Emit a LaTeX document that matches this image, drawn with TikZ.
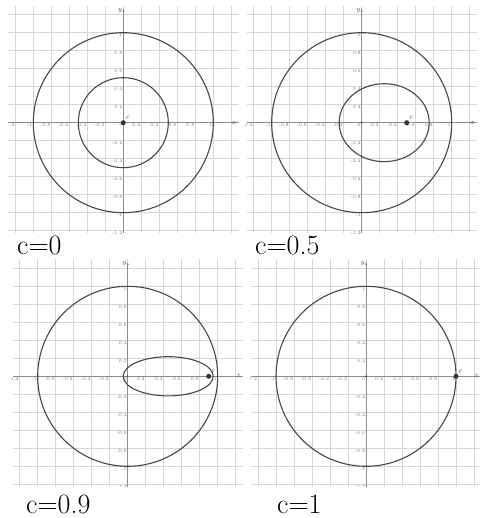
\documentclass[tikz,border=0pt]{standalone}
\usetikzlibrary{arrows.meta}
\tikzset{
  gridline/.style={draw=black!16, line width=0.9pt},
  axisline/.style={draw=black!45, line width=0.8pt},
  curve/.style={draw=black!72, line width=1.1pt},
  ticklab/.style={font=\fontsize{4.5}{5}\selectfont, text=black!55, inner sep=0.7pt},
  axlab/.style={font=\fontsize{7}{8}\selectfont\itshape, text=black!70, inner sep=0.5pt},
  caption/.style={font=\fontsize{28}{30}\selectfont, inner sep=0pt, anchor=base west},
  ptdot/.style={circle, fill=black!80, inner sep=0pt, minimum size=5pt},
  odot/.style={circle, fill=black!75, inner sep=0pt, minimum size=2pt},
}
\newcommand\mypanel[4]{% #1,#2 origin (pt), #3 = c, #4 = name
  \begin{scope}[shift={(#1pt,#2pt)}, x=90pt, y=90pt]
    \begin{scope}
      \clip (-1.28,-1.23) rectangle (1.28,1.3);
      \foreach \i in {-6,...,6} {
        \pgfmathsetmacro\g{\i/5}
        \draw[gridline] (\g,-1.23) -- (\g,1.3);
        \draw[gridline] (-1.28,\g) -- (1.28,\g);
      }
      \draw[axisline] (-1.28,0) -- (1.28,0);
      \draw[axisline, -{Latex[length=3pt,width=2.6pt]}] (0,-1.23) -- (0,1.27);
      \foreach \v/\t in {-1.2/-1.2,-1/-1,-0.8/-0.8,-0.6/-0.6,-0.4/-0.4,-0.2/-0.2,0.2/0.2,0.4/0.4,0.6/0.6,0.8/0.8,1/1} {
        \node[ticklab, anchor=north east] (#4x\t) at (\v,0) {\t};
        \node[ticklab, anchor=north east] (#4y\t) at (0,\v) {\t};
      }
      \node[ticklab, anchor=north east] (#4o) at (0,0) {0};
      \node[axlab, anchor=east] (#4ylab) at (-0.01,1.25) {y};
      \node[axlab] (#4xlab) at (1.225,0) {x};
    \end{scope}
    \draw[curve] (0,0) circle [radius=1];
    \pgfmathsetmacro\ry{sqrt(1-(#3)*(#3))/2}
    \pgfmathsetmacro\cx{(#3)/2}
    \ifdim\ry pt>0.001pt
      \draw[curve] (\cx,0) ellipse [x radius=0.5, y radius=\ry];
    \fi
    \node[odot] (#4O) at (0,0) {};
    \node[ptdot] (#4P) at (#3,0) {};
    \node[axlab, anchor=south west, font=\fontsize{5}{6}\selectfont\itshape] (#4Plab) at ([xshift=-0.5pt,yshift=0.5pt]#4P.north east) {F};
  \end{scope}}
\begin{document}
\begin{tikzpicture}
  \useasboundingbox (0,0) rectangle (479pt,518pt);
  \fill[white] (0,0) rectangle (479pt,518pt);
  \mypanel{123.3}{395.3}{0}{a}
  \mypanel{361.7}{395.3}{0.5}{b}
  \mypanel{127.7}{141.7}{0.9}{c}
  \mypanel{366}{141.7}{1}{d}
  \node[caption] (capa) at (17pt,263pt) {c=0};
  \node[caption] (capb) at (255pt,263pt) {c=0.5};
  \node[caption] (capc) at (26pt,5pt) {c=0.9};
  \node[caption] (capd) at (277pt,5pt) {c=1};
\end{tikzpicture}
\end{document}
